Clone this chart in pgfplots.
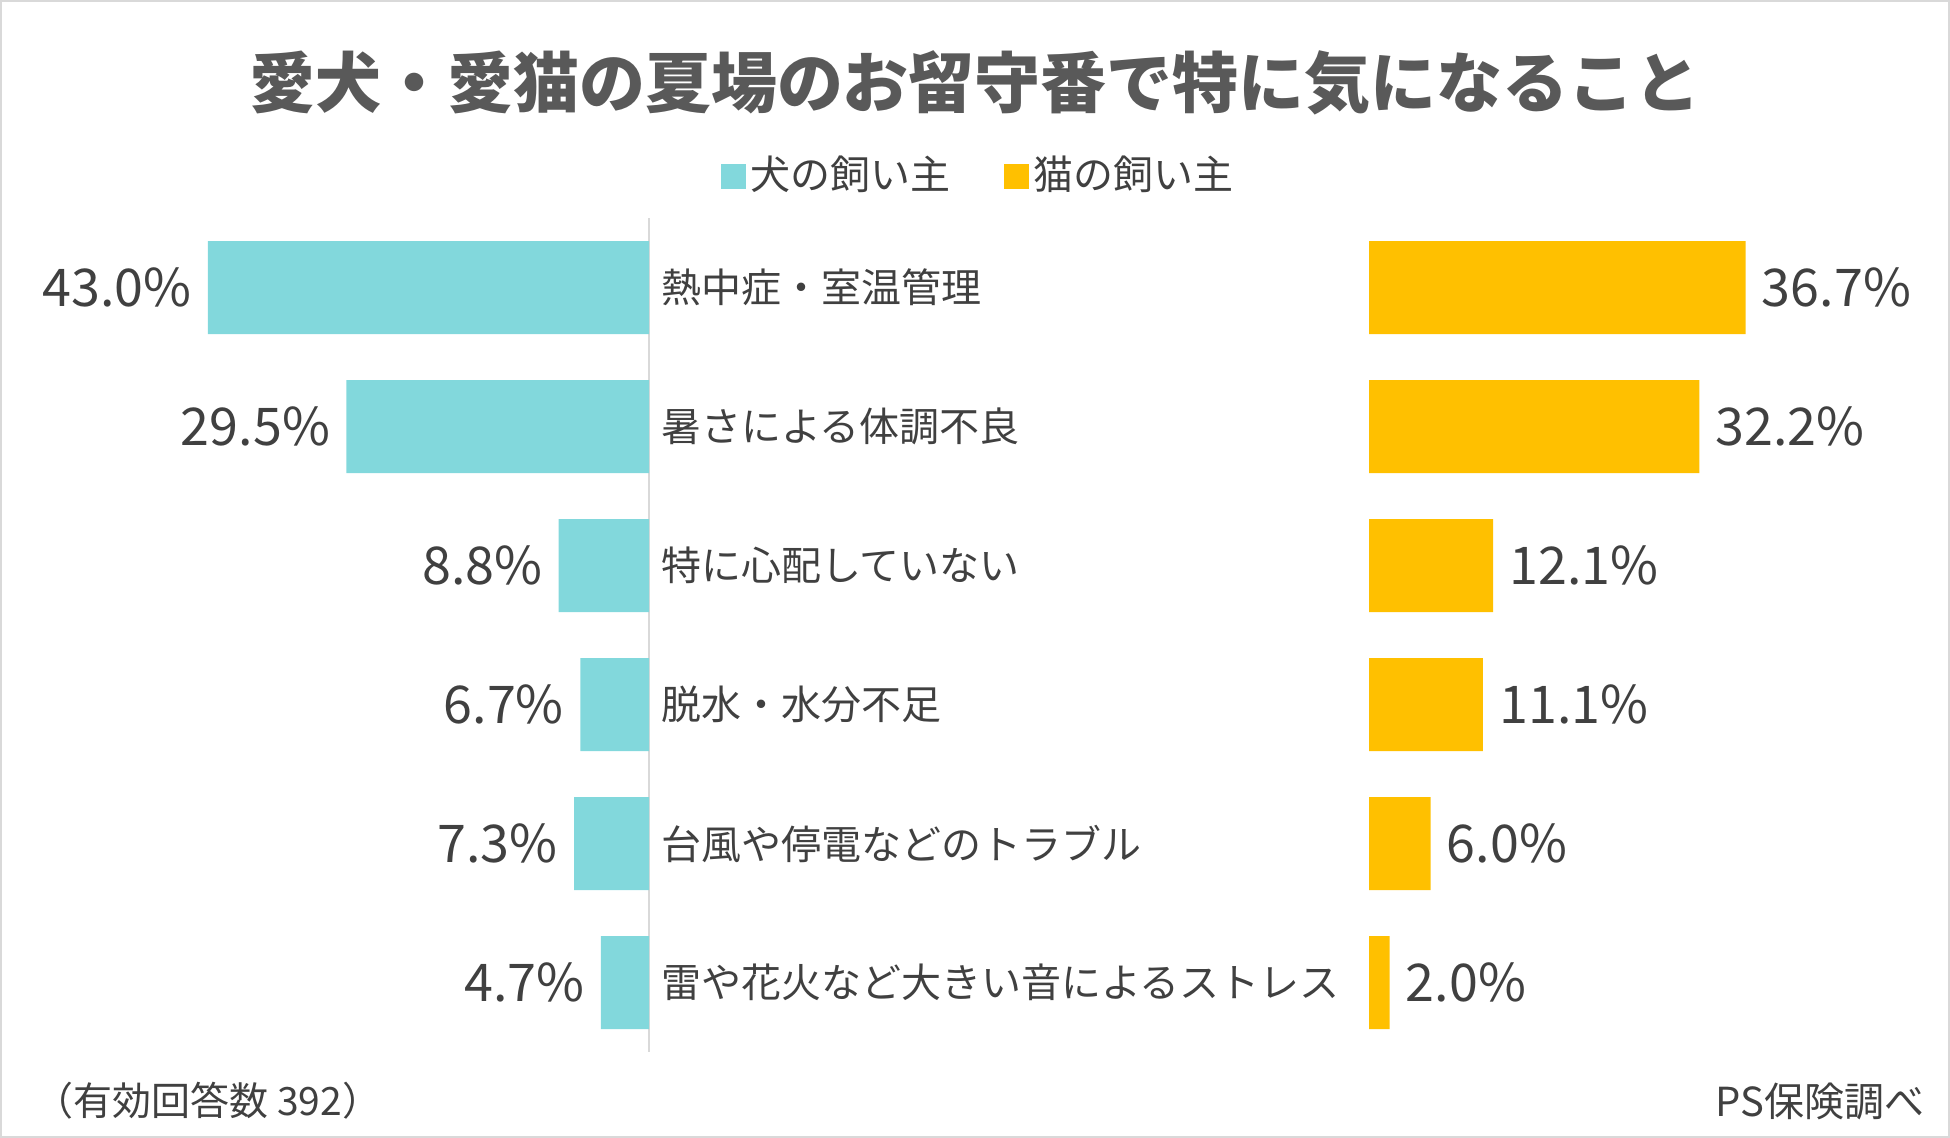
\documentclass[border=0pt]{standalone}
\usepackage{fontspec}
\setmainfont{Noto Sans CJK JP}
\usepackage{pgfplots}
\pgfplotsset{compat=1.18}
\usepackage{pgfplotstable}
\definecolor{dogc}{HTML}{82D8DC}
\definecolor{catc}{HTML}{FFC000}
\definecolor{txt}{HTML}{404040}
\definecolor{ttl}{HTML}{595959}
\definecolor{framec}{HTML}{D9D9D9}

\pgfplotstableread{
idx dog cat
0 43.0 36.7
1 29.5 32.2
2 8.8 12.1
3 6.7 11.1
4 7.3 6.0
5 4.7 2.0
}\datatable

\begin{document}
\begin{tikzpicture}
\path[use as bounding box] (0,0) rectangle (975pt,-569pt);
\draw[framec, line width=1pt] (0.5pt,-0.5pt) rectangle (974.5pt,-568.5pt);
\node[text=ttl, font=\fontsize{33pt}{36pt}\selectfont\bfseries] at (487.5pt,-41.5pt) {愛犬・愛猫の夏場のお留守番で特に気になること};

\begin{axis}[
  at={(324.5pt,-109pt)}, anchor=north east,
  width=250pt, height=417pt, scale only axis,
  xbar, bar width=46.5pt,
  xmin=-48.73, xmax=0, ymin=-0.5, ymax=5.5, y dir=reverse,
  axis x line=none, axis y line*=right,
  axis line style={draw=framec, line width=1pt},
  ytick={0,...,5}, major tick length=0pt,
  yticklabels={熱中症・室温管理,暑さによる体調不良,特に心配していない,脱水・水分不足,台風や停電などのトラブル,雷や花火など大きい音によるストレス},
  yticklabel style={font=\fontsize{20pt}{22pt}\selectfont, text=txt, anchor=west, xshift=2.5pt},
  clip=false,
  point meta=explicit,
  nodes near coords={\pgfmathprintnumber[fixed,fixed zerofill,precision=1]{\pgfplotspointmeta}\%},
  every node near coord/.append style={anchor=east, font=\fontsize{26pt}{28pt}\selectfont, text=txt, inner sep=8pt},
  /pgf/number format/assume math mode=true,
  legend style={at={(axis description cs:1.66,1.0528)}, anchor=center, draw=none, fill=none,
    legend columns=2, font=\fontsize{20pt}{22pt}\selectfont, text=txt,
    /tikz/every even column/.append style={column sep=25pt}},
  legend image code/.code={\fill[#1] (0pt,-7.5pt) rectangle (12.5pt,5pt);},
]
\addlegendimage{fill=dogc, draw=none}
\addlegendentry{犬の飼い主}
\addlegendimage{fill=catc, draw=none}
\addlegendentry{猫の飼い主}
\addplot[fill=dogc, draw=none, forget plot, bar shift=0pt] table[x expr=-\thisrow{dog}, y=idx, meta=dog] {\datatable};
\end{axis}

\begin{axis}[
  at={(684.5pt,-109pt)}, anchor=north west,
  width=250pt, height=417pt, scale only axis,
  xbar, bar width=46.5pt,
  xmin=0, xmax=48.73, ymin=-0.5, ymax=5.5, y dir=reverse,
  hide axis, clip=false,
  point meta=explicit,
  nodes near coords={\pgfmathprintnumber[fixed,fixed zerofill,precision=1]{\pgfplotspointmeta}\%},
  every node near coord/.append style={anchor=west, font=\fontsize{26pt}{28pt}\selectfont, text=txt, inner sep=8pt},
  /pgf/number format/assume math mode=true,
]
\addplot[fill=catc, draw=none, bar shift=0pt] table[x=cat, y=idx, meta=cat] {\datatable};
\end{axis}

\node[anchor=west, text=txt, font=\fontsize{19.5pt}{21pt}\selectfont, inner sep=0pt] at (17pt,-550.5pt) {（有効回答数 392）};
\node[anchor=east, text=txt, font=\fontsize{20pt}{22pt}\selectfont, inner sep=0pt] at (962.5pt,-550.5pt) {PS保険調べ};
\end{tikzpicture}
\end{document}
